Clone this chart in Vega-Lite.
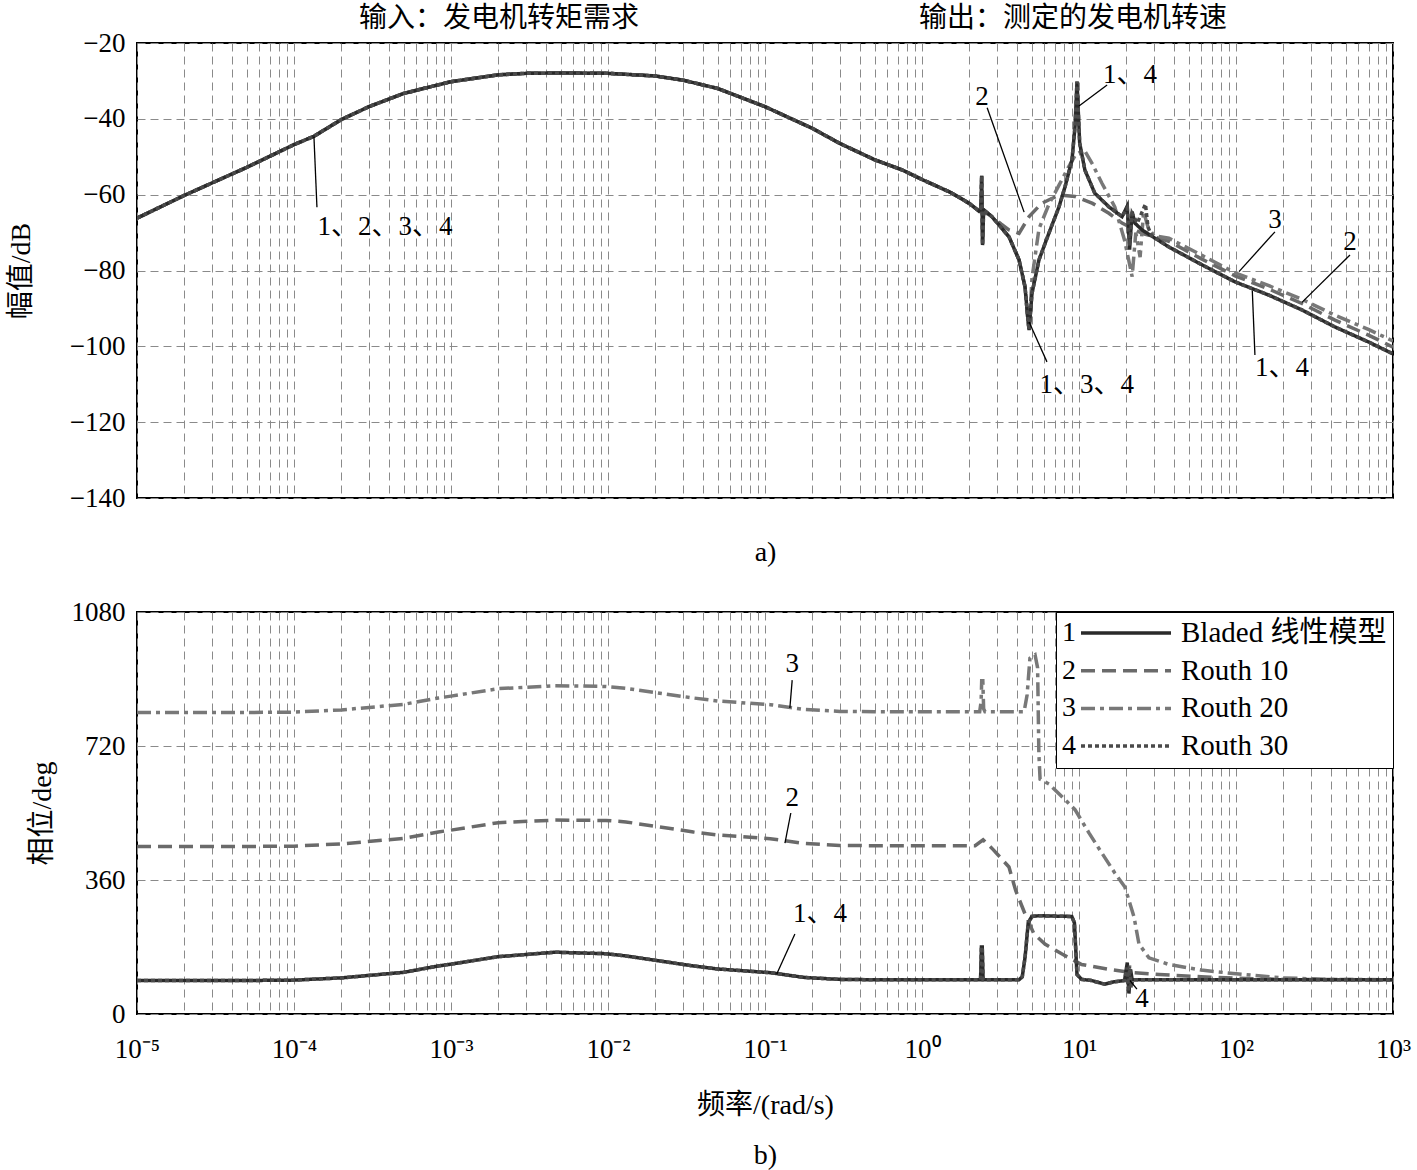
{
  "$schema": "https://vega.github.io/schema/vega-lite/v6.json",
  "background": "white",
  "padding": {"left": 6, "top": 4, "right": 0, "bottom": 0},
  "spacing": 30,
  "config": {
    "font": "Liberation Serif, Noto Sans CJK SC",
    "view": {"stroke": "black", "strokeWidth": 2},
    "axis": {
      "labelFont": "Liberation Serif, Noto Sans CJK SC", "labelFontSize": 27, "labelColor": "black",
      "titleFont": "Liberation Serif, Noto Sans CJK SC", "titleFontSize": 28, "titleFontWeight": "normal", "titleColor": "black",
      "gridColor": "#8a8a8a", "gridDash": [8, 5], "gridWidth": 1, "gridOpacity": 1,
      "domain": false, "ticks": false, "labelPadding": 12
    },
    "legend": {
      "orient": "top-right", "offset": 0, "padding": 6, "strokeColor": "black", "fillColor": "white", "cornerRadius": 0,
      "symbolType": "stroke", "symbolSize": 8100, "symbolStrokeWidth": 3.5,
      "clipHeight": 30, "rowPadding": 7.7,
      "labelFont": "Liberation Serif, Noto Sans CJK SC", "labelFontSize": 29, "labelColor": "black", "labelOffset": 8, "labelLimit": 400,
      "titleOrient": "left", "titleFont": "Liberation Serif, Noto Sans CJK SC", "titleFontSize": 28, "titleFontWeight": "normal", "titleColor": "black", "titleLineHeight": 37.7, "titlePadding": 3
    }
  },
  "resolve": {
    "scale": {"y": "independent", "color": "independent", "strokeDash": "independent"},
    "legend": {"color": "independent", "strokeDash": "independent"}
  },
  "datasets": {
    "mag": [
      {"s":"Bladed 线性模型","f":1e-5,"v":-66.2},{"s":"Bladed 线性模型","f":2e-5,"v":-60.2},{"s":"Bladed 线性模型","f":5e-5,"v":-52.8},{"s":"Bladed 线性模型","f":1e-4,"v":-46.8},{"s":"Bladed 线性模型","f":1.34e-4,"v":-44.6},{"s":"Bladed 线性模型","f":2e-4,"v":-40.2},{"s":"Bladed 线性模型","f":3e-4,"v":-36.8},{"s":"Bladed 线性模型","f":5e-4,"v":-33.3},{"s":"Bladed 线性模型","f":1e-3,"v":-30.2},{"s":"Bladed 线性模型","f":2e-3,"v":-28.4},{"s":"Bladed 线性模型","f":3e-3,"v":-28.0},{"s":"Bladed 线性模型","f":5e-3,"v":-27.9},{"s":"Bladed 线性模型","f":0.01,"v":-28.0},{"s":"Bladed 线性模型","f":0.02,"v":-28.7},{"s":"Bladed 线性模型","f":0.03,"v":-29.8},{"s":"Bladed 线性模型","f":0.05,"v":-32.0},{"s":"Bladed 线性模型","f":0.1,"v":-36.8},{"s":"Bladed 线性模型","f":0.2,"v":-42.5},{"s":"Bladed 线性模型","f":0.3,"v":-46.5},{"s":"Bladed 线性模型","f":0.5,"v":-50.8},{"s":"Bladed 线性模型","f":0.75,"v":-53.5},{"s":"Bladed 线性模型","f":1,"v":-56.0},{"s":"Bladed 线性模型","f":1.5,"v":-59.3},{"s":"Bladed 线性模型","f":2,"v":-62.3},{"s":"Bladed 线性模型","f":2.3,"v":-64.3},{"s":"Bladed 线性模型","f":2.37,"v":-63.5},{"s":"Bladed 线性模型","f":2.4,"v":-55.0},{"s":"Bladed 线性模型","f":2.43,"v":-73.3},{"s":"Bladed 线性模型","f":2.47,"v":-64.0},{"s":"Bladed 线性模型","f":2.79,"v":-65.8},{"s":"Bladed 线性模型","f":3.58,"v":-71.1},{"s":"Bladed 线性模型","f":4.15,"v":-77.2},{"s":"Bladed 线性模型","f":4.53,"v":-84.3},{"s":"Bladed 线性模型","f":4.73,"v":-93.0},{"s":"Bladed 线性模型","f":4.81,"v":-95.7},{"s":"Bladed 线性模型","f":5.02,"v":-86.0},{"s":"Bladed 线性模型","f":5.56,"v":-77.2},{"s":"Bladed 线性模型","f":6.44,"v":-70.1},{"s":"Bladed 线性模型","f":7.46,"v":-63.2},{"s":"Bladed 线性模型","f":8.15,"v":-57.9},{"s":"Bladed 线性模型","f":9.02,"v":-50.9},{"s":"Bladed 线性模型","f":9.43,"v":-42.1},{"s":"Bladed 线性模型","f":9.71,"v":-30.2},{"s":"Bladed 线性模型","f":10.1,"v":-46.4},{"s":"Bladed 线性模型","f":10.9,"v":-53.5},{"s":"Bladed 线性模型","f":12.6,"v":-59.6},{"s":"Bladed 线性模型","f":15.5,"v":-63.2},{"s":"Bladed 线性模型","f":18.8,"v":-65.8},{"s":"Bladed 线性模型","f":20.3,"v":-63.0},{"s":"Bladed 线性模型","f":21.0,"v":-74.5},{"s":"Bladed 线性模型","f":21.8,"v":-64.5},{"s":"Bladed 线性模型","f":22.7,"v":-67.5},{"s":"Bladed 线性模型","f":25.2,"v":-69.3},{"s":"Bladed 线性模型","f":37.4,"v":-73.8},{"s":"Bladed 线性模型","f":60.7,"v":-78.5},{"s":"Bladed 线性模型","f":98.6,"v":-83.0},{"s":"Bladed 线性模型","f":162,"v":-86.5},{"s":"Bladed 线性模型","f":263,"v":-90.4},{"s":"Bladed 线性模型","f":427,"v":-94.9},{"s":"Bladed 线性模型","f":703,"v":-98.9},{"s":"Bladed 线性模型","f":1000,"v":-102.0},

      {"s":"Routh 10","f":1e-5,"v":-66.2},{"s":"Routh 10","f":2e-5,"v":-60.2},{"s":"Routh 10","f":5e-5,"v":-52.8},{"s":"Routh 10","f":1e-4,"v":-46.8},{"s":"Routh 10","f":1.34e-4,"v":-44.6},{"s":"Routh 10","f":2e-4,"v":-40.2},{"s":"Routh 10","f":3e-4,"v":-36.8},{"s":"Routh 10","f":5e-4,"v":-33.3},{"s":"Routh 10","f":1e-3,"v":-30.2},{"s":"Routh 10","f":2e-3,"v":-28.4},{"s":"Routh 10","f":3e-3,"v":-28.0},{"s":"Routh 10","f":5e-3,"v":-27.9},{"s":"Routh 10","f":0.01,"v":-28.0},{"s":"Routh 10","f":0.02,"v":-28.7},{"s":"Routh 10","f":0.03,"v":-29.8},{"s":"Routh 10","f":0.05,"v":-32.0},{"s":"Routh 10","f":0.1,"v":-36.8},{"s":"Routh 10","f":0.2,"v":-42.5},{"s":"Routh 10","f":0.3,"v":-46.5},{"s":"Routh 10","f":0.5,"v":-50.8},{"s":"Routh 10","f":0.75,"v":-53.5},{"s":"Routh 10","f":1,"v":-56.0},{"s":"Routh 10","f":1.5,"v":-59.3},{"s":"Routh 10","f":2,"v":-62.3},{"s":"Routh 10","f":2.3,"v":-64.2},{"s":"Routh 10","f":2.67,"v":-65.2},{"s":"Routh 10","f":3.2,"v":-67.8},{"s":"Routh 10","f":3.58,"v":-69.3},{"s":"Routh 10","f":4.15,"v":-70.2},{"s":"Routh 10","f":4.81,"v":-65.8},{"s":"Routh 10","f":5.77,"v":-62.3},{"s":"Routh 10","f":7.46,"v":-60.1},{"s":"Routh 10","f":9.43,"v":-60.5},{"s":"Routh 10","f":12.2,"v":-62.3},{"s":"Routh 10","f":15.5,"v":-64.9},{"s":"Routh 10","f":18.8,"v":-67.5},{"s":"Routh 10","f":25.2,"v":-70.2},{"s":"Routh 10","f":37.4,"v":-72.3},{"s":"Routh 10","f":60.7,"v":-77.0},{"s":"Routh 10","f":98.6,"v":-81.4},{"s":"Routh 10","f":162,"v":-84.9},{"s":"Routh 10","f":263,"v":-88.7},{"s":"Routh 10","f":427,"v":-93.1},{"s":"Routh 10","f":703,"v":-97.1},{"s":"Routh 10","f":1000,"v":-100.2},

      {"s":"Routh 20","f":1e-5,"v":-66.2},{"s":"Routh 20","f":2e-5,"v":-60.2},{"s":"Routh 20","f":5e-5,"v":-52.8},{"s":"Routh 20","f":1e-4,"v":-46.8},{"s":"Routh 20","f":1.34e-4,"v":-44.6},{"s":"Routh 20","f":2e-4,"v":-40.2},{"s":"Routh 20","f":3e-4,"v":-36.8},{"s":"Routh 20","f":5e-4,"v":-33.3},{"s":"Routh 20","f":1e-3,"v":-30.2},{"s":"Routh 20","f":2e-3,"v":-28.4},{"s":"Routh 20","f":3e-3,"v":-28.0},{"s":"Routh 20","f":5e-3,"v":-27.9},{"s":"Routh 20","f":0.01,"v":-28.0},{"s":"Routh 20","f":0.02,"v":-28.7},{"s":"Routh 20","f":0.03,"v":-29.8},{"s":"Routh 20","f":0.05,"v":-32.0},{"s":"Routh 20","f":0.1,"v":-36.8},{"s":"Routh 20","f":0.2,"v":-42.5},{"s":"Routh 20","f":0.3,"v":-46.5},{"s":"Routh 20","f":0.5,"v":-50.8},{"s":"Routh 20","f":0.75,"v":-53.5},{"s":"Routh 20","f":1,"v":-56.0},{"s":"Routh 20","f":1.5,"v":-59.3},{"s":"Routh 20","f":2,"v":-62.3},{"s":"Routh 20","f":2.3,"v":-64.3},{"s":"Routh 20","f":2.37,"v":-63.5},{"s":"Routh 20","f":2.4,"v":-55.0},{"s":"Routh 20","f":2.43,"v":-73.3},{"s":"Routh 20","f":2.47,"v":-64.0},{"s":"Routh 20","f":2.79,"v":-65.8},{"s":"Routh 20","f":3.58,"v":-71.1},{"s":"Routh 20","f":4.15,"v":-77.2},{"s":"Routh 20","f":4.53,"v":-84.3},{"s":"Routh 20","f":4.73,"v":-93.0},{"s":"Routh 20","f":4.81,"v":-95.7},{"s":"Routh 20","f":5.02,"v":-82.0},{"s":"Routh 20","f":5.56,"v":-69.0},{"s":"Routh 20","f":6.44,"v":-62.5},{"s":"Routh 20","f":7.46,"v":-57.5},{"s":"Routh 20","f":8.5,"v":-53.0},{"s":"Routh 20","f":9.5,"v":-49.5},{"s":"Routh 20","f":10.8,"v":-48.2},{"s":"Routh 20","f":12.2,"v":-52.0},{"s":"Routh 20","f":14.0,"v":-57.0},{"s":"Routh 20","f":16.9,"v":-63.2},{"s":"Routh 20","f":19.5,"v":-72.0},{"s":"Routh 20","f":21.8,"v":-81.6},{"s":"Routh 20","f":23,"v":-70.0},{"s":"Routh 20","f":24.5,"v":-76.5},{"s":"Routh 20","f":25.8,"v":-64.5},{"s":"Routh 20","f":27.5,"v":-68.5},{"s":"Routh 20","f":30,"v":-70.8},{"s":"Routh 20","f":37.4,"v":-71.5},{"s":"Routh 20","f":60.7,"v":-76.0},{"s":"Routh 20","f":98.6,"v":-80.6},{"s":"Routh 20","f":162,"v":-84.0},{"s":"Routh 20","f":263,"v":-87.6},{"s":"Routh 20","f":427,"v":-91.8},{"s":"Routh 20","f":703,"v":-95.6},{"s":"Routh 20","f":1000,"v":-98.6},

      {"s":"Routh 30","f":1e-5,"v":-66.2},{"s":"Routh 30","f":2e-5,"v":-60.2},{"s":"Routh 30","f":5e-5,"v":-52.8},{"s":"Routh 30","f":1e-4,"v":-46.8},{"s":"Routh 30","f":1.34e-4,"v":-44.6},{"s":"Routh 30","f":2e-4,"v":-40.2},{"s":"Routh 30","f":3e-4,"v":-36.8},{"s":"Routh 30","f":5e-4,"v":-33.3},{"s":"Routh 30","f":1e-3,"v":-30.2},{"s":"Routh 30","f":2e-3,"v":-28.4},{"s":"Routh 30","f":3e-3,"v":-28.0},{"s":"Routh 30","f":5e-3,"v":-27.9},{"s":"Routh 30","f":0.01,"v":-28.0},{"s":"Routh 30","f":0.02,"v":-28.7},{"s":"Routh 30","f":0.03,"v":-29.8},{"s":"Routh 30","f":0.05,"v":-32.0},{"s":"Routh 30","f":0.1,"v":-36.8},{"s":"Routh 30","f":0.2,"v":-42.5},{"s":"Routh 30","f":0.3,"v":-46.5},{"s":"Routh 30","f":0.5,"v":-50.8},{"s":"Routh 30","f":0.75,"v":-53.5},{"s":"Routh 30","f":1,"v":-56.0},{"s":"Routh 30","f":1.5,"v":-59.3},{"s":"Routh 30","f":2,"v":-62.3},{"s":"Routh 30","f":2.3,"v":-64.3},{"s":"Routh 30","f":2.37,"v":-63.5},{"s":"Routh 30","f":2.4,"v":-55.0},{"s":"Routh 30","f":2.43,"v":-73.3},{"s":"Routh 30","f":2.47,"v":-64.0},{"s":"Routh 30","f":2.79,"v":-65.8},{"s":"Routh 30","f":3.58,"v":-71.1},{"s":"Routh 30","f":4.15,"v":-77.2},{"s":"Routh 30","f":4.53,"v":-84.3},{"s":"Routh 30","f":4.73,"v":-93.0},{"s":"Routh 30","f":4.81,"v":-95.7},{"s":"Routh 30","f":5.02,"v":-86.0},{"s":"Routh 30","f":5.56,"v":-77.2},{"s":"Routh 30","f":6.44,"v":-70.1},{"s":"Routh 30","f":7.46,"v":-63.2},{"s":"Routh 30","f":8.15,"v":-57.9},{"s":"Routh 30","f":9.02,"v":-50.9},{"s":"Routh 30","f":9.43,"v":-42.1},{"s":"Routh 30","f":9.71,"v":-30.2},{"s":"Routh 30","f":10.1,"v":-46.4},{"s":"Routh 30","f":10.9,"v":-53.5},{"s":"Routh 30","f":12.6,"v":-59.6},{"s":"Routh 30","f":15.5,"v":-63.2},{"s":"Routh 30","f":18.8,"v":-65.8},{"s":"Routh 30","f":20.3,"v":-63.5},{"s":"Routh 30","f":21.0,"v":-73.5},{"s":"Routh 30","f":21.8,"v":-65.0},{"s":"Routh 30","f":23.5,"v":-67.5},{"s":"Routh 30","f":26.5,"v":-62.5},{"s":"Routh 30","f":27.5,"v":-68.5},{"s":"Routh 30","f":29,"v":-70.8},{"s":"Routh 30","f":37.4,"v":-73.8},{"s":"Routh 30","f":60.7,"v":-78.5},{"s":"Routh 30","f":98.6,"v":-83.0},{"s":"Routh 30","f":162,"v":-86.5},{"s":"Routh 30","f":263,"v":-90.4},{"s":"Routh 30","f":427,"v":-94.9},{"s":"Routh 30","f":703,"v":-98.9},{"s":"Routh 30","f":1000,"v":-102.0}
    ],
    "phase": [
      {"s":"Bladed 线性模型","f":1e-5,"v":90},{"s":"Bladed 线性模型","f":5e-5,"v":90},{"s":"Bladed 线性模型","f":1e-4,"v":91},{"s":"Bladed 线性模型","f":2e-4,"v":97},{"s":"Bladed 线性模型","f":5e-4,"v":112},{"s":"Bladed 线性模型","f":8.3e-4,"v":129},{"s":"Bladed 线性模型","f":1e-3,"v":134},{"s":"Bladed 线性模型","f":2e-3,"v":154},{"s":"Bladed 线性模型","f":4.6e-3,"v":166},{"s":"Bladed 线性模型","f":9.7e-3,"v":162},{"s":"Bladed 线性模型","f":0.013,"v":156},{"s":"Bladed 线性模型","f":0.035,"v":129},{"s":"Bladed 线性模型","f":0.05,"v":121},{"s":"Bladed 线性模型","f":0.108,"v":111},{"s":"Bladed 线性模型","f":0.18,"v":98},{"s":"Bladed 线性模型","f":0.3,"v":93},{"s":"Bladed 线性模型","f":0.5,"v":92},{"s":"Bladed 线性模型","f":1,"v":92},{"s":"Bladed 线性模型","f":2.36,"v":92},{"s":"Bladed 线性模型","f":2.39,"v":180},{"s":"Bladed 线性模型","f":2.42,"v":180},{"s":"Bladed 线性模型","f":2.45,"v":92},{"s":"Bladed 线性模型","f":4.15,"v":92},{"s":"Bladed 线性模型","f":4.35,"v":100},{"s":"Bladed 线性模型","f":4.53,"v":151},{"s":"Bladed 线性模型","f":4.75,"v":245},{"s":"Bladed 线性模型","f":5.0,"v":262},{"s":"Bladed 线性模型","f":5.56,"v":264},{"s":"Bladed 线性模型","f":9.0,"v":262},{"s":"Bladed 线性模型","f":9.35,"v":245},{"s":"Bladed 线性模型","f":9.71,"v":106},{"s":"Bladed 线性模型","f":10.4,"v":93},{"s":"Bladed 线性模型","f":12,"v":90},{"s":"Bladed 线性模型","f":13.5,"v":84},{"s":"Bladed 线性模型","f":14.6,"v":80},{"s":"Bladed 线性模型","f":16.5,"v":86},{"s":"Bladed 线性模型","f":19.5,"v":90},{"s":"Bladed 线性模型","f":20.3,"v":138},{"s":"Bladed 线性模型","f":20.8,"v":55},{"s":"Bladed 线性模型","f":21.3,"v":120},{"s":"Bladed 线性模型","f":21.8,"v":92},{"s":"Bladed 线性模型","f":30,"v":92},{"s":"Bladed 线性模型","f":1000,"v":92},

      {"s":"Routh 10","f":1e-5,"v":450},{"s":"Routh 10","f":5e-5,"v":450},{"s":"Routh 10","f":1e-4,"v":451},{"s":"Routh 10","f":2e-4,"v":457},{"s":"Routh 10","f":5e-4,"v":472},{"s":"Routh 10","f":8.3e-4,"v":489},{"s":"Routh 10","f":1e-3,"v":494},{"s":"Routh 10","f":2e-3,"v":514},{"s":"Routh 10","f":4.6e-3,"v":521},{"s":"Routh 10","f":9.7e-3,"v":520},{"s":"Routh 10","f":0.013,"v":516},{"s":"Routh 10","f":0.035,"v":489},{"s":"Routh 10","f":0.05,"v":481},{"s":"Routh 10","f":0.108,"v":471},{"s":"Routh 10","f":0.18,"v":458},{"s":"Routh 10","f":0.3,"v":453},{"s":"Routh 10","f":0.5,"v":452},{"s":"Routh 10","f":1,"v":452},{"s":"Routh 10","f":2.18,"v":452},{"s":"Routh 10","f":2.45,"v":468},{"s":"Routh 10","f":2.85,"v":441},{"s":"Routh 10","f":3.58,"v":395},{"s":"Routh 10","f":3.95,"v":332},{"s":"Routh 10","f":4.53,"v":269},{"s":"Routh 10","f":5.17,"v":215},{"s":"Routh 10","f":6.07,"v":188},{"s":"Routh 10","f":7.8,"v":161},{"s":"Routh 10","f":10.4,"v":133},{"s":"Routh 10","f":15.5,"v":120},{"s":"Routh 10","f":21.8,"v":111},{"s":"Routh 10","f":32.4,"v":106},{"s":"Routh 10","f":60,"v":100},{"s":"Routh 10","f":100,"v":96},{"s":"Routh 10","f":200,"v":93},{"s":"Routh 10","f":1000,"v":92},

      {"s":"Routh 20","f":1e-5,"v":810},{"s":"Routh 20","f":5e-5,"v":810},{"s":"Routh 20","f":1e-4,"v":811},{"s":"Routh 20","f":2e-4,"v":817},{"s":"Routh 20","f":5e-4,"v":832},{"s":"Routh 20","f":8.3e-4,"v":849},{"s":"Routh 20","f":1e-3,"v":854},{"s":"Routh 20","f":2e-3,"v":874},{"s":"Routh 20","f":4.6e-3,"v":882},{"s":"Routh 20","f":9.7e-3,"v":880},{"s":"Routh 20","f":0.013,"v":875},{"s":"Routh 20","f":0.035,"v":849},{"s":"Routh 20","f":0.05,"v":841},{"s":"Routh 20","f":0.108,"v":831},{"s":"Routh 20","f":0.18,"v":818},{"s":"Routh 20","f":0.3,"v":813},{"s":"Routh 20","f":0.5,"v":812},{"s":"Routh 20","f":1,"v":812},{"s":"Routh 20","f":2.33,"v":812},{"s":"Routh 20","f":2.38,"v":840},{"s":"Routh 20","f":2.4,"v":895},{"s":"Routh 20","f":2.44,"v":895},{"s":"Routh 20","f":2.47,"v":820},{"s":"Routh 20","f":2.52,"v":812},{"s":"Routh 20","f":4.47,"v":812},{"s":"Routh 20","f":4.67,"v":857},{"s":"Routh 20","f":4.87,"v":956},{"s":"Routh 20","f":5.25,"v":965},{"s":"Routh 20","f":5.45,"v":930},{"s":"Routh 20","f":5.55,"v":700},{"s":"Routh 20","f":5.65,"v":631},{"s":"Routh 20","f":6.44,"v":618},{"s":"Routh 20","f":8.15,"v":576},{"s":"Routh 20","f":9.43,"v":549},{"s":"Routh 20","f":11.6,"v":486},{"s":"Routh 20","f":14.0,"v":432},{"s":"Routh 20","f":16.9,"v":379},{"s":"Routh 20","f":19.6,"v":341},{"s":"Routh 20","f":22.4,"v":261},{"s":"Routh 20","f":24.1,"v":188},{"s":"Routh 20","f":27.9,"v":151},{"s":"Routh 20","f":37.4,"v":133},{"s":"Routh 20","f":60,"v":118},{"s":"Routh 20","f":100,"v":108},{"s":"Routh 20","f":200,"v":97},{"s":"Routh 20","f":400,"v":93},{"s":"Routh 20","f":1000,"v":92},

      {"s":"Routh 30","f":1e-5,"v":90},{"s":"Routh 30","f":5e-5,"v":90},{"s":"Routh 30","f":1e-4,"v":91},{"s":"Routh 30","f":2e-4,"v":97},{"s":"Routh 30","f":5e-4,"v":112},{"s":"Routh 30","f":8.3e-4,"v":129},{"s":"Routh 30","f":1e-3,"v":134},{"s":"Routh 30","f":2e-3,"v":154},{"s":"Routh 30","f":4.6e-3,"v":166},{"s":"Routh 30","f":9.7e-3,"v":162},{"s":"Routh 30","f":0.013,"v":156},{"s":"Routh 30","f":0.035,"v":129},{"s":"Routh 30","f":0.05,"v":121},{"s":"Routh 30","f":0.108,"v":111},{"s":"Routh 30","f":0.18,"v":98},{"s":"Routh 30","f":0.3,"v":93},{"s":"Routh 30","f":0.5,"v":92},{"s":"Routh 30","f":1,"v":92},{"s":"Routh 30","f":2.36,"v":92},{"s":"Routh 30","f":2.39,"v":180},{"s":"Routh 30","f":2.42,"v":180},{"s":"Routh 30","f":2.45,"v":92},{"s":"Routh 30","f":4.15,"v":92},{"s":"Routh 30","f":4.35,"v":100},{"s":"Routh 30","f":4.53,"v":151},{"s":"Routh 30","f":4.75,"v":245},{"s":"Routh 30","f":5.0,"v":262},{"s":"Routh 30","f":5.56,"v":264},{"s":"Routh 30","f":9.0,"v":262},{"s":"Routh 30","f":9.35,"v":245},{"s":"Routh 30","f":9.71,"v":106},{"s":"Routh 30","f":10.4,"v":93},{"s":"Routh 30","f":12,"v":90},{"s":"Routh 30","f":13.5,"v":84},{"s":"Routh 30","f":14.6,"v":80},{"s":"Routh 30","f":16.5,"v":86},{"s":"Routh 30","f":19.5,"v":90},{"s":"Routh 30","f":20.2,"v":125},{"s":"Routh 30","f":20.6,"v":60},{"s":"Routh 30","f":21.0,"v":130},{"s":"Routh 30","f":21.5,"v":70},{"s":"Routh 30","f":22,"v":92},{"s":"Routh 30","f":30,"v":92},{"s":"Routh 30","f":1000,"v":92}
    ],
    "annTop": [
      {"f":3.8e-4,"v":-68.5,"t":"1、2、3、4"},
      {"f":2.41,"v":-34.2,"t":"2"},
      {"f":21.1,"v":-28.4,"t":"1、4"},
      {"f":11.2,"v":-110.2,"t":"1、3、4"},
      {"f":177,"v":-66.7,"t":"3"},
      {"f":532,"v":-72.5,"t":"2"},
      {"f":196,"v":-105.7,"t":"1、4"}
    ],
    "leadTop": [
      {"f":1.34e-4,"v":-44.8,"f2":1.4e-4,"v2":-63.3},
      {"f":2.6,"v":-37.1,"f2":4.47,"v2":-64.6},
      {"f":15.1,"v":-31.1,"f2":10.0,"v2":-36.6},
      {"f":6.25,"v":-104.1,"f2":4.81,"v2":-93.6},
      {"f":177,"v":-69.8,"f2":104.5,"v2":-80.3},
      {"f":532,"v":-75.9,"f2":263,"v2":-88.4},
      {"f":132,"v":-102.3,"f2":127,"v2":-85.3}
    ],
    "annBot": [
      {"f":0.149,"v":940,"t":"3"},
      {"f":0.149,"v":580,"t":"2"},
      {"f":0.224,"v":269,"t":"1、4"},
      {"f":25.2,"v":40,"t":"4"}
    ],
    "leadBot": [
      {"f":0.149,"v":897,"f2":0.144,"v2":822},
      {"f":0.146,"v":540,"f2":0.134,"v2":459},
      {"f":0.155,"v":215,"f2":0.119,"v2":108},
      {"f":23.4,"v":67,"f2":21.1,"v2":90}
    ]
  },
  "vconcat": [
    {
      "width": 1256,
      "height": 455,
      "title": {"text": "输入：发电机转矩需求　　　　　　　　　　输出：测定的发电机转速", "anchor": "start", "frame": "group", "dx": 222, "offset": -4, "fontSize": 28, "font": "Liberation Serif, Noto Sans CJK SC", "fontWeight": "normal", "color": "black"},
      "encoding": {
        "x": {"field": "f", "type": "quantitative", "scale": {"type": "log", "domain": [1e-5, 1000], "nice": false},
          "axis": {"title": "a)", "titlePadding": 40, "labels": false,
            "values": [1e-5,2e-5,3e-5,4e-5,5e-5,6e-5,7e-5,8e-5,9e-5,1e-4,2e-4,3e-4,4e-4,5e-4,6e-4,7e-4,8e-4,9e-4,0.001,0.002,0.003,0.004,0.005,0.006,0.007,0.008,0.009,0.01,0.02,0.03,0.04,0.05,0.06,0.07,0.08,0.09,0.1,0.2,0.3,0.4,0.5,0.6,0.7,0.8,0.9,1,2,3,4,5,6,7,8,9,10,20,30,40,50,60,70,80,90,100,200,300,400,500,600,700,800,900,1000]}},
        "y": {"field": "v", "type": "quantitative", "scale": {"domain": [-140, -20], "nice": false, "zero": false},
          "axis": {"title": "幅值/dB", "titlePadding": 34, "format": "d", "values": [-140, -120, -100, -80, -60, -40, -20]}}
      },
      "layer": [
        {"data": {"name": "mag"}, "transform": [{"filter": "datum.s === 'Routh 10'"}], "mark": {"type": "line", "strokeWidth": 3.5, "clip": true},
          "encoding": {"color": {"field": "s", "type": "nominal", "scale": {"domain": ["Bladed 线性模型","Routh 10","Routh 20","Routh 30"], "range": ["#2a2a2a","#6a6a6a","#787878","#4a4a4a"]}, "legend": null},
            "strokeDash": {"field": "s", "type": "nominal", "scale": {"domain": ["Bladed 线性模型","Routh 10","Routh 20","Routh 30"], "range": [[1,0],[14,7],[14,5,4,5],[4,3]]}, "legend": null}}},
        {"data": {"name": "mag"}, "transform": [{"filter": "datum.s === 'Routh 20'"}], "mark": {"type": "line", "strokeWidth": 3.5, "clip": true},
          "encoding": {"color": {"field": "s", "type": "nominal", "legend": null}, "strokeDash": {"field": "s", "type": "nominal", "legend": null}}},
        {"data": {"name": "mag"}, "transform": [{"filter": "datum.s === 'Bladed 线性模型'"}], "mark": {"type": "line", "strokeWidth": 3.5, "clip": true},
          "encoding": {"color": {"field": "s", "type": "nominal", "legend": null}, "strokeDash": {"field": "s", "type": "nominal", "legend": null}}},
        {"data": {"name": "mag"}, "transform": [{"filter": "datum.s === 'Routh 30'"}], "mark": {"type": "line", "strokeWidth": 3.5, "clip": true},
          "encoding": {"color": {"field": "s", "type": "nominal", "legend": null}, "strokeDash": {"field": "s", "type": "nominal", "legend": null}}},
        {"data": {"name": "leadTop"}, "mark": {"type": "rule", "color": "black", "strokeWidth": 1.3},
          "encoding": {"x2": {"field": "f2"}, "y2": {"field": "v2"}}},
        {"data": {"name": "annTop"}, "mark": {"type": "text", "fontSize": 27, "font": "Liberation Serif, Noto Sans CJK SC", "color": "black", "align": "center", "baseline": "middle"},
          "encoding": {"text": {"field": "t"}}}
      ]
    },
    {
      "width": 1256,
      "height": 402,
      "encoding": {
        "x": {"field": "f", "type": "quantitative", "scale": {"type": "log", "domain": [1e-5, 1000], "nice": false},
          "axis": {"title": ["频率/(rad/s)", "b)"], "titleLineHeight": 50, "titlePadding": 29, "labelPadding": 22, "labelOverlap": false, "labelFlush": false,
            "labelExpr": "abs(log(datum.value)/LN10 - round(log(datum.value)/LN10)) < 0.01 ? '10' + ['⁻⁵','⁻⁴','⁻³','⁻²','⁻¹','⁰','¹','²','³'][round(log(datum.value)/LN10)+5] : ''",
            "values": [1e-5,2e-5,3e-5,4e-5,5e-5,6e-5,7e-5,8e-5,9e-5,1e-4,2e-4,3e-4,4e-4,5e-4,6e-4,7e-4,8e-4,9e-4,0.001,0.002,0.003,0.004,0.005,0.006,0.007,0.008,0.009,0.01,0.02,0.03,0.04,0.05,0.06,0.07,0.08,0.09,0.1,0.2,0.3,0.4,0.5,0.6,0.7,0.8,0.9,1,2,3,4,5,6,7,8,9,10,20,30,40,50,60,70,80,90,100,200,300,400,500,600,700,800,900,1000]}},
        "y": {"field": "v", "type": "quantitative", "scale": {"domain": [0, 1080], "nice": false, "zero": false},
          "axis": {"title": "相位/deg", "titlePadding": 15, "format": "d", "values": [0, 360, 720, 1080]}}
      },
      "layer": [
        {"data": {"name": "phase"}, "transform": [{"filter": "datum.s === 'Routh 10'"}], "mark": {"type": "line", "strokeWidth": 3.5, "clip": true},
          "encoding": {"color": {"field": "s", "type": "nominal", "scale": {"domain": ["Bladed 线性模型","Routh 10","Routh 20","Routh 30"], "range": ["#2a2a2a","#6a6a6a","#787878","#4a4a4a"]}, "legend": {"title": ["1","2","3","4"]}},
            "strokeDash": {"field": "s", "type": "nominal", "scale": {"domain": ["Bladed 线性模型","Routh 10","Routh 20","Routh 30"], "range": [[1,0],[14,7],[14,5,4,5],[4,3]]}, "legend": {"title": ["1","2","3","4"]}}}},
        {"data": {"name": "phase"}, "transform": [{"filter": "datum.s === 'Routh 20'"}], "mark": {"type": "line", "strokeWidth": 3.5, "clip": true},
          "encoding": {"color": {"field": "s", "type": "nominal"}, "strokeDash": {"field": "s", "type": "nominal"}}},
        {"data": {"name": "phase"}, "transform": [{"filter": "datum.s === 'Bladed 线性模型'"}], "mark": {"type": "line", "strokeWidth": 3.5, "clip": true},
          "encoding": {"color": {"field": "s", "type": "nominal"}, "strokeDash": {"field": "s", "type": "nominal"}}},
        {"data": {"name": "phase"}, "transform": [{"filter": "datum.s === 'Routh 30'"}], "mark": {"type": "line", "strokeWidth": 3.5, "clip": true},
          "encoding": {"color": {"field": "s", "type": "nominal"}, "strokeDash": {"field": "s", "type": "nominal"}}},
        {"data": {"name": "leadBot"}, "mark": {"type": "rule", "color": "black", "strokeWidth": 1.3},
          "encoding": {"x2": {"field": "f2"}, "y2": {"field": "v2"}}},
        {"data": {"name": "annBot"}, "mark": {"type": "text", "fontSize": 27, "font": "Liberation Serif, Noto Sans CJK SC", "color": "black", "align": "center", "baseline": "middle"},
          "encoding": {"text": {"field": "t"}}}
      ]
    }
  ]
}
